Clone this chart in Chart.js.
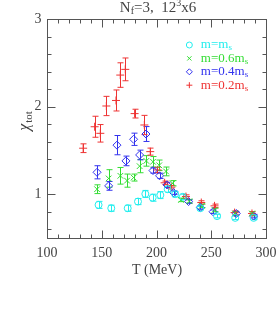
<!DOCTYPE html>
<html>
<head>
<meta charset="utf-8">
<script src="https://cdn.jsdelivr.net/npm/chart.js@4"></script>
<style>
  html, body { margin: 0; padding: 0; background: #fff; }
  #wrap { width: 277px; height: 330px; }
</style>
</head>
<body>
<div id="wrap"><canvas id="myChart" width="277" height="330"></canvas></div>
<script>
// data
const tS = [147.1, 158.7, 173.7, 183.1, 189.8, 196.5, 203.5, 210.2, 217, 224, 240, 255.3, 271.9, 288.7];
const chiS = [0.878, 0.84, 0.84, 0.916, 1.003, 0.96, 0.99, 1.057, 1.0, 0.97, 0.84, 0.75, 0.73, 0.73];
const errS = [0.04, 0.035, 0.035, 0.035, 0.04, 0.04, 0.04, 0.035, 0.03, 0.03, 0.02, 0.02, 0.02, 0.02];

const t06 = [145.7, 156.3, 167, 173.1, 179.1, 184.6, 190.7, 196.8, 202.5, 208.7, 214.7, 222.4, 230, 241.5, 253, 271.7, 287.2];
const chi06 = [1.057, 1.18, 1.21, 1.155, 1.19, 1.32, 1.38, 1.37, 1.33, 1.26, 1.125, 0.935, 0.92, 0.867, 0.82, 0.78, 0.78];
const err06 = [0.05, 0.1, 0.095, 0.075, 0.04, 0.075, 0.06, 0.06, 0.06, 0.05, 0.03, 0.02, 0.02, 0.02, 0.02, 0.02, 0.02];

const t04 = [145.7, 156.3, 163.9, 172.1, 179.1, 184.6, 190.4, 196.8, 202.8, 209.6, 215.6, 229.3, 240, 251.6, 272.9, 288.7];
const chi04 = [1.25, 1.095, 1.56, 1.38, 1.627, 1.448, 1.687, 1.27, 1.21, 1.106, 1.018, 0.916, 0.85, 0.8, 0.78, 0.75];
const err04 = [0.075, 0.05, 0.11, 0.055, 0.07, 0.055, 0.085, 0.03, 0.03, 0.03, 0.02, 0.02, 0.02, 0.02, 0.02, 0.02];

const t02 = [133, 143.5, 148.7, 154.2, 163, 166.9, 171.5, 180, 188.9, 194.3, 200.9, 207.4, 213.5, 226.9, 240.9, 253, 271.3, 287.2];
const chi02 = [1.525, 1.77, 1.695, 2.007, 2.07, 2.36, 2.425, 1.92, 1.79, 1.486, 1.277, 1.13, 1.08, 0.973, 0.905, 0.867, 0.79, 0.78];
const err02 = [0.05, 0.12, 0.1, 0.11, 0.12, 0.14, 0.13, 0.05, 0.11, 0.04, 0.03, 0.02, 0.02, 0.02, 0.02, 0.02, 0.02, 0.02];

const xTicks = [100, 150, 200, 250, 300];
const yTicks = [1, 2, 3];

const serif = '"Liberation Serif", "DejaVu Serif", serif';
const textCol = '#444';

function pts(xs, ys) {
    return xs.map((x, i) => ({ x: x, y: ys[i] }));
}

const series = [
    { label: 'm=m', sub: 's', t: tS, chi: chiS, err: errS, color: '#22eeee', style: 'circle', r: 3.5 },
    { label: 'm=0.6m', sub: 's', t: t06, chi: chi06, err: err06, color: '#33dd33', style: 'crossRot', r: 4 },
    { label: 'm=0.4m', sub: 's', t: t04, chi: chi04, err: err04, color: '#3333ee', style: 'rectRot', r: 4 },
    { label: 'm=0.2m', sub: 's', t: t02, chi: chi02, err: err02, color: '#ee3333', style: 'cross', r: 4 },
];

// error bars, frame, ticks and all texts
const decor = {
    id: 'decor',
    beforeDatasetsDraw(chart) {
        const ctx = chart.ctx;
        const xs = chart.scales.x, ys = chart.scales.y;
        ctx.save();
        ctx.lineWidth = 1;
        for (const s of series) {
            ctx.strokeStyle = s.color;
            s.t.forEach((t, i) => {
                const px = Math.round(xs.getPixelForValue(t)) + 0.5;
                const y1 = ys.getPixelForValue(s.chi[i] + s.err[i]);
                const y2 = ys.getPixelForValue(s.chi[i] - s.err[i]);
                ctx.beginPath();
                ctx.moveTo(px, y1); ctx.lineTo(px, y2);
                ctx.moveTo(px - 3, y1); ctx.lineTo(px + 3, y1);
                ctx.moveTo(px - 3, y2); ctx.lineTo(px + 3, y2);
                ctx.stroke();
            });
        }
        ctx.restore();
    },
    afterDraw(chart) {
        const ctx = chart.ctx;
        const a = chart.chartArea;
        const xs = chart.scales.x, ys = chart.scales.y;
        ctx.save();
        ctx.strokeStyle = '#555';
        ctx.lineWidth = 1;
        const L = Math.round(a.left) + 0.5, R = Math.round(a.right) + 0.5;
        const T = Math.round(a.top) + 0.5, B = Math.round(a.bottom) + 0.5;
        ctx.strokeRect(L, T, R - L, B - T);
        ctx.beginPath();
        for (let v = 100; v <= 300; v += 10) {
            const px = Math.round(xs.getPixelForValue(v)) + 0.5;
            const len = v % 50 === 0 ? 8 : 4;
            ctx.moveTo(px, B); ctx.lineTo(px, B - len);
            ctx.moveTo(px, T); ctx.lineTo(px, T + len);
        }
        for (let k = 3; k <= 15; k++) {
            const v = k / 5;
            const py = Math.round(ys.getPixelForValue(v)) + 0.5;
            const len = k % 5 === 0 ? 8 : 4;
            ctx.moveTo(L, py); ctx.lineTo(L + len, py);
            ctx.moveTo(R, py); ctx.lineTo(R - len, py);
        }
        ctx.stroke();

        ctx.fillStyle = textCol;
        ctx.font = '14px ' + serif;
        ctx.textAlign = 'center';
        ctx.textBaseline = 'middle';
        for (const v of xTicks) {
            ctx.fillText(String(v), xs.getPixelForValue(v), B + 15);
        }
        ctx.textAlign = 'right';
        for (const v of yTicks) {
            ctx.fillText(String(v), L - 6, ys.getPixelForValue(v));
        }
        ctx.textAlign = 'center';
        ctx.fillText('T (MeV)', (L + R) / 2, B + 32);

        // title N_f=3,  12^3x6
        ctx.textAlign = 'left';
        const parts = [['N', 0, 15], ['f', 3, 10], ['=3,  12', 0, 15], ['3', -5, 10], ['x6', 0, 15]];
        let w = 0;
        for (const p of parts) { ctx.font = p[2] + 'px ' + serif; w += ctx.measureText(p[0]).width; }
        let x = (L + R) / 2 - w / 2 + 1;
        for (const p of parts) {
            ctx.font = p[2] + 'px ' + serif;
            ctx.fillText(p[0], x, 8 + p[1]);
            x += ctx.measureText(p[0]).width;
        }

        // y label chi_tot
        ctx.save();
        ctx.translate(25, ys.getPixelForValue(1.83));
        ctx.rotate(-Math.PI / 2);
        ctx.textAlign = 'left';
        ctx.font = 'italic 16px ' + serif;
        const cw = ctx.measureText('\u03c7').width;
        ctx.font = '11px ' + serif;
        const tw = ctx.measureText('tot').width;
        ctx.font = 'italic 16px ' + serif;
        ctx.fillText('\u03c7', -(cw + tw) / 2, 0);
        ctx.font = '11px ' + serif;
        ctx.fillText('tot', -(cw + tw) / 2 + cw + 1, 4);
        ctx.restore();

        // legend
        const lx = xs.getPixelForValue(230), tx = xs.getPixelForValue(240.5);
        series.forEach((s, i) => {
            const ly = 45 + i * 13.4;
            ctx.strokeStyle = s.color;
            ctx.fillStyle = 'rgba(0,0,0,0)';
            ctx.lineWidth = 1;
            Chart.helpers.drawPoint(ctx, { pointStyle: s.style, radius: 3, rotation: 0, borderWidth: 1 }, lx, ly);
            ctx.fillStyle = s.color;
            ctx.font = '13px ' + serif;
            ctx.textAlign = 'left';
            ctx.textBaseline = 'middle';
            ctx.fillText(s.label, tx, ly);
            const lw = ctx.measureText(s.label).width;
            ctx.font = '9px ' + serif;
            ctx.fillText(s.sub, tx + lw, ly + 3);
        });
        ctx.restore();
    }
};

window.onload = () => {
    const ctx = document.getElementById('myChart');
    window.chart = new Chart(ctx, {
        type: 'scatter',
        data: {
            datasets: series.map(s => ({
                label: s.label + s.sub,
                data: pts(s.t, s.chi),
                pointStyle: s.style,
                pointRadius: s.r,
                pointBorderWidth: 1,
                borderColor: s.color,
                backgroundColor: 'rgba(0,0,0,0)',
                showLine: false
            }))
        },
        options: {
            responsive: false,
            animation: false,
            layout: { padding: { left: 47, right: 11, top: 19, bottom: 92 } },
            plugins: { legend: { display: false }, tooltip: { enabled: false } },
            scales: {
                x: { type: 'linear', min: 100, max: 300, display: false },
                y: { type: 'linear', min: 0.5, max: 3, display: false }
            }
        },
        plugins: [decor]
    });
};
</script>
</body>
</html>
